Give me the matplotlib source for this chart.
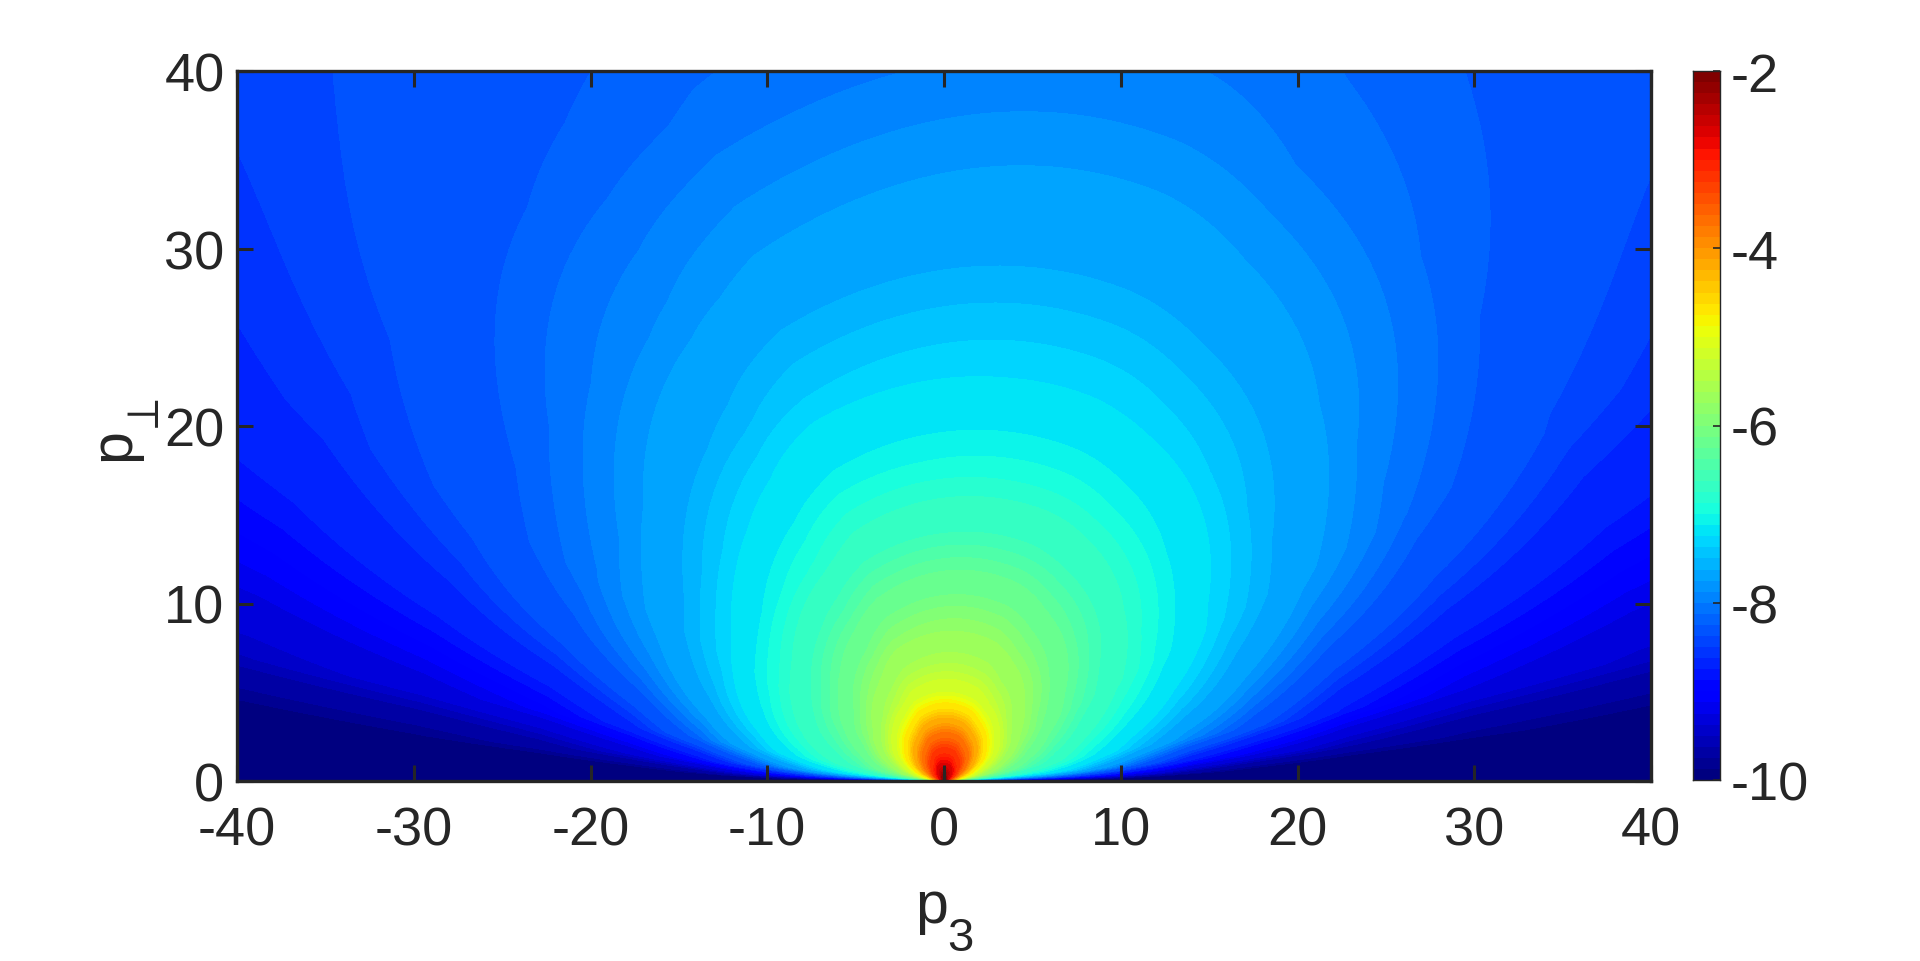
import numpy as np
import matplotlib
matplotlib.use("Agg")
import matplotlib.pyplot as plt

plt.rcParams['font.family'] = ['Liberation Sans', 'DejaVu Sans']
plt.rcParams['axes.unicode_minus'] = False
INK = '#262626'

# radius from origin of the (p3, p_perp) plane
radii = [0, 0.3, 1, 2, 3, 4, 5, 6.5, 8.5, 11, 14, 18, 23, 30, 40, 57]
# polar angle measured from +p3, each list is the log-value versus radius
angles = [0, 2, 5, 10, 20, 30, 45, 60, 70, 90, 110, 120, 135, 150, 160, 170, 175, 178, 180]
a000 = [-2, -11, -11, -11, -11, -11, -11, -11, -11, -11, -11, -11, -11, -11, -11, -11]
a002 = [-2, -6.5, -7.2, -7.5, -7.65, -7.75, -7.85, -8.05, -8.6, -9.2, -9.7, -10.05, -10.3, -10.3, -10.3, -10.3]
a005 = [-2, -5.0, -6.2, -6.4, -6.6, -6.75, -6.9, -7.0, -7.5, -8.0, -8.9, -9.3, -9.65, -9.95, -10.1, -10.25]
a010 = [-2, -3.9, -4.9, -5.6, -6.0, -6.3, -6.5, -6.8, -7.05, -7.45, -7.8, -8.2, -8.9, -9.25, -9.45, -9.65]
a020 = [-2, -3.2, -4.0, -5.0, -5.4, -5.8, -6.05, -6.4, -6.7, -6.95, -7.3, -7.7, -8.05, -8.45, -8.8, -9.05]
a030 = [-2, -2.8, -3.6, -4.5, -5.15, -5.55, -5.85, -6.15, -6.5, -6.8, -7.0, -7.4, -7.72, -8.1, -8.42, -8.75]
a045 = [-2, -2.6, -3.0, -3.7, -4.5, -5.2, -5.5, -5.75, -6.05, -6.4, -6.75, -7.05, -7.4, -7.75, -8.08, -8.4]
a060 = [-2, -2.3, -3.0, -3.55, -4.2, -4.85, -5.3, -5.6, -5.9, -6.25, -6.62, -6.98, -7.3, -7.65, -8.02, -8.3]
a070 = [-2, -2.2, -2.9, -3.4, -4.0, -4.7, -5.2, -5.5, -5.8, -6.15, -6.58, -6.95, -7.28, -7.6, -7.93, -8.25]
a090 = [-2, -2.1, -2.8, -3.3, -3.9, -4.5, -5.1, -5.45, -5.78, -6.12, -6.6, -7.0, -7.3, -7.65, -7.97, -8.3]
a110 = [-2, -2.2, -2.9, -3.45, -4.1, -4.75, -5.25, -5.55, -5.9, -6.3, -6.75, -7.05, -7.4, -7.75, -8.12, -8.35]
a120 = [-2, -2.4, -3.05, -3.65, -4.35, -5.0, -5.4, -5.7, -6.05, -6.45, -6.88, -7.15, -7.5, -7.85, -8.15, -8.42]
a135 = [-2, -2.7, -3.2, -3.9, -4.7, -5.3, -5.6, -5.95, -6.3, -6.7, -7.03, -7.4, -7.75, -8.05, -8.25, -8.5]
a150 = [-2, -2.9, -3.7, -4.6, -5.25, -5.65, -5.95, -6.3, -6.65, -6.95, -7.35, -7.75, -8.05, -8.33, -8.55, -8.8]
a160 = [-2, -3.3, -4.1, -5.05, -5.5, -5.9, -6.25, -6.5, -6.7, -7.05, -7.5, -7.92, -8.25, -8.6, -8.88, -9.1]
a170 = [-2, -4.0, -5.0, -5.7, -6.1, -6.35, -6.55, -6.8, -6.97, -7.5, -8.0, -8.7, -9.15, -9.35, -9.5, -9.7]
a175 = [-2, -5.1, -6.3, -6.5, -6.6, -6.8, -6.95, -7.1, -7.6, -8.3, -9.05, -9.45, -9.75, -10.0, -10.15, -10.25]
a178 = [-2, -6.6, -7.2, -7.5, -7.7, -7.8, -7.9, -8.3, -8.8, -9.3, -9.8, -10.1, -10.3, -10.3, -10.3, -10.3]
a180 = [-2, -11, -11, -11, -11, -11, -11, -11, -11, -11, -11, -11, -11, -11, -11, -11]
rows = [a000, a002, a005, a010, a020, a030, a045, a060, a070, a090,
        a110, a120, a135, a150, a160, a170, a175, a178, a180]

xticks = [-40, -30, -20, -10, 0, 10, 20, 30, 40]
yticks = [0, 10, 20, 30, 40]
cticks = [-10, -8, -6, -4, -2]


def refine(table, factor=16, passes=3):
    """Resample the read table for display so its cell facets do not show."""
    t = np.asarray(table, float)
    for axis in (0, 1):
        n = t.shape[axis]
        pos = np.linspace(0, n - 1, (n - 1) * factor + 1)
        t = np.apply_along_axis(lambda c: np.interp(pos, np.arange(n), c), axis, t)
        for _ in range(passes):
            k = factor // 2 * 2 + 1
            pad = k // 2
            t = np.apply_along_axis(
                lambda c: np.convolve(np.pad(c, pad, mode='edge'), np.ones(k) / k, 'valid'), axis, t)
    return t


def refine_nodes(nodes, factor=16):
    n = len(nodes)
    return np.interp(np.linspace(0, n - 1, (n - 1) * factor + 1), np.arange(n), nodes)


W, H = 1920, 962
fig = plt.figure(figsize=(W / 100, H / 100), dpi=100)
ax = fig.add_axes([237 / W, 1 - 782 / H, (1651 - 237) / W, (782 - 72) / H])
cax = fig.add_axes([1693 / W, 1 - 781 / H, 27 / W, (781 - 72) / H])

R, T = np.meshgrid(refine_nodes(radii), np.radians(refine_nodes(angles)))
X, Y = R * np.cos(T), R * np.sin(T)
Z = refine(rows)
cmap = plt.get_cmap('jet', 64)
levels = np.arange(-10, -1.95, 0.1)
cs = ax.contourf(X, Y, Z, levels=levels, cmap=cmap, extend='both', antialiased=False)
cs.set_edgecolor('face')
cs.set_linewidth(0.3)

ax.set_xlim(-40, 40)
ax.set_ylim(0, 40)
ax.set_xticks(xticks)
ax.set_yticks(yticks)
ax.tick_params(direction='in', length=11.5, width=2.2, top=True, right=True,
               color=INK, labelcolor=INK, labelsize=39)
ax.tick_params(axis='x', pad=18)
ax.tick_params(axis='y', pad=9)
for s in ax.spines.values():
    s.set_linewidth(2.4)
    s.set_color(INK)

# axis titles with their large subscripts
fig.text(915 / W, 1 - 923 / H, 'p', fontsize=42.5, color=INK, ha='left', va='baseline')
fig.text(947 / W, 1 - 951 / H, '3', fontsize=34, color=INK, ha='left', va='baseline')
fig.text(129 / W, 1 - 461 / H, 'p', fontsize=42.5, color=INK, rotation=90,
         rotation_mode='anchor', ha='left', va='baseline')
fig.text(157 / W, 1 - 411 / H, '\u22a5', fontsize=33, color=INK, rotation=90,
         rotation_mode='anchor', ha='center', va='baseline', family='STIXGeneral')

grad = np.linspace(-10, -2, 65)
cax.pcolormesh([0, 1], grad, (grad[:-1] + grad[1:])[:, None] / 2, cmap=cmap, vmin=-10, vmax=-2)
cax.set_xticks([])
cax.yaxis.tick_right()
cax.set_yticks(cticks)
cax.tick_params(axis='y', direction='in', length=5, width=1.2, color=INK,
                labelcolor=INK, labelsize=39, pad=8)
for s in cax.spines.values():
    s.set_linewidth(1.0)
    s.set_color(INK)

fig.savefig('out.png', dpi=100)
